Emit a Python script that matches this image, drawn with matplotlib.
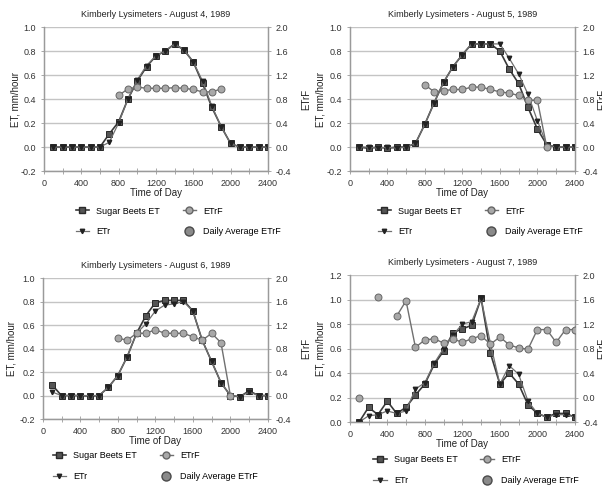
import matplotlib
matplotlib.use("Agg")
import matplotlib.pyplot as plt
import numpy as np
from matplotlib.lines import Line2D
from matplotlib.ticker import MultipleLocator

plt.rcParams['font.family'] = ['Liberation Sans', 'DejaVu Sans']

# time of day, hourly
hours = [100, 200, 300, 400, 500, 600, 700, 800, 900, 1000, 1100, 1200,
         1300, 1400, 1500, 1600, 1700, 1800, 1900, 2000, 2100, 2200, 2300, 2400]

titles = [
    "Kimberly Lysimeters - August 4, 1989",
    "Kimberly Lysimeters - August 5, 1989",
    "Kimberly Lysimeters - August 6, 1989",
    "Kimberly Lysimeters - August 7, 1989",
]

# August 4
beets_aug4 = [0, 0, 0, 0, 0, 0, 0.11, 0.21, 0.40, 0.55, 0.67, 0.76,
              0.80, 0.86, 0.81, 0.71, 0.53, 0.33, 0.17, 0.03, 0, 0, 0, 0]
etr_aug4 = [0, 0, 0, 0, 0, 0, 0.04, 0.20, 0.40, 0.56, 0.68, 0.76,
            0.80, 0.86, 0.81, 0.71, 0.55, 0.34, 0.17, 0.03, 0, 0, 0, 0]
etrf_aug4 = [None, None, None, None, None, None, None, 0.86, 0.97, 1.0, 0.98, 0.98,
             0.98, 0.99, 0.98, 0.96, 0.92, 0.92, 0.97, None, None, None, None, None]

# August 5
beets_aug5 = [0, -0.01, 0, -0.01, 0, 0, 0.03, 0.19, 0.37, 0.54, 0.67, 0.77,
              0.86, 0.86, 0.86, 0.80, 0.65, 0.53, 0.33, 0.15, 0.02, 0, 0, 0]
etr_aug5 = [0, 0, -0.01, 0, -0.01, 0, 0.03, 0.19, 0.37, 0.54, 0.67, 0.77,
            0.86, 0.86, 0.86, 0.86, 0.74, 0.61, 0.44, 0.22, 0.02, 0, 0, 0]
etrf_aug5 = [None, None, None, None, None, None, None, 1.04, 0.92, 0.94, 0.96, 0.96,
             1.0, 1.0, 0.96, 0.92, 0.90, 0.86, 0.78, 0.78, 0.0, None, None, None]

# August 6
beets_aug6 = [0.09, 0, 0, 0, -0.005, 0, 0.07, 0.17, 0.33, 0.53, 0.68, 0.79,
              0.81, 0.81, 0.81, 0.72, 0.47, 0.29, 0.11, 0.0, -0.01, 0.04, 0, 0]
etr_aug6 = [0.03, 0, 0, 0, 0, 0, 0.07, 0.17, 0.33, 0.53, 0.61, 0.72,
            0.77, 0.78, 0.80, 0.72, 0.47, 0.29, 0.11, 0.0, -0.01, 0.03, 0, 0]
etrf_aug6 = [None, None, None, None, None, None, None, 0.98, 0.94, 1.06, 1.06, 1.12,
             1.06, 1.06, 1.06, 1.0, 0.94, 1.06, 0.90, 0.0, None, None, None, None]

# August 7
beets_aug7 = [0.0, 0.12, 0.06, 0.17, 0.07, 0.12, 0.22, 0.31, 0.47, 0.58, 0.73, 0.76,
              0.79, 1.01, 0.56, 0.31, 0.40, 0.31, 0.14, 0.07, 0.04, 0.07, 0.07, 0.04]
etr_aug7 = [0.0, 0.05, 0.06, 0.09, 0.07, 0.09, 0.27, 0.32, 0.48, 0.60, 0.71, 0.80,
            0.82, 1.01, 0.64, 0.31, 0.46, 0.39, 0.17, 0.07, 0.04, 0.06, 0.06, 0.04]
etrf_aug7 = [0.0, None, 1.64, None, 1.33, 1.58, 0.82, 0.94, 0.96, 0.89, 0.96, 0.90,
             0.96, 1.01, 0.87, 0.99, 0.86, 0.81, 0.79, 1.11, 1.11, 0.90, 1.11, 1.11]

panels = [
    (beets_aug4, etr_aug4, etrf_aug4),
    (beets_aug5, etr_aug5, etrf_aug5),
    (beets_aug6, etr_aug6, etrf_aug6),
    (beets_aug7, etr_aug7, etrf_aug7),
]

left_limits = [(-0.2, 1.0), (-0.2, 1.0), (-0.2, 1.0), (0.0, 1.2)]
right_limits = (-0.4, 2.0)

# axes rectangles in figure fractions (left, bottom, width, height)
rects = [
    (0.073, 0.653, 0.372, 0.292),
    (0.581, 0.653, 0.374, 0.292),
    (0.071, 0.150, 0.374, 0.286),
    (0.581, 0.144, 0.374, 0.298),
]
# label positions in axes coords
left_label_x = [-0.105, -0.108, -0.115, -0.108]
right_label_x = [1.148, 1.098, 1.148, 1.098]
legend_anchor = [(0.6, -0.19), (0.58, -0.19), (0.5, -0.17), (0.56, -0.17)]

DARK = '#3a3a3a'
MID = '#707070'
LIGHT = '#a8a8a8'
GRID = '#c4c4c4'

fig = plt.figure(figsize=(6.02, 4.93), dpi=100)

for i, (beets, etr, etrf) in enumerate(panels):
    ax = fig.add_axes(rects[i])
    ax2 = ax.twinx()
    x = np.array(hours, dtype=float)

    ax.plot(x, np.array(beets, dtype=float), '-', color=DARK, lw=1.2,
            marker='s', ms=5, mfc='#555555', mec='#2a2a2a', mew=0.7, zorder=3)
    ax.plot(x, np.array(etr, dtype=float), '-', color=MID, lw=0.9,
            marker='v', ms=3.2, mfc='#222222', mec='#222222', zorder=4)
    ax2.plot(x, np.array(etrf, dtype=float), '-', color=MID, lw=1.0,
             marker='o', ms=5, mfc=LIGHT, mec='#666666', mew=0.7, zorder=3)

    lo, hi = left_limits[i]
    ax.set_ylim(lo, hi)
    ax.yaxis.set_major_locator(MultipleLocator(0.2))
    ax2.set_ylim(*right_limits)
    ax2.yaxis.set_major_locator(MultipleLocator(0.4))
    ax.set_xlim(0, 2400)
    ax.xaxis.set_major_locator(MultipleLocator(400))
    ax.xaxis.set_minor_locator(MultipleLocator(200))

    ax.grid(axis='y', color=GRID, lw=1.0)
    ax.set_axisbelow(True)
    for a in (ax, ax2):
        for sp in a.spines.values():
            sp.set_color('#9a9a9a')
            sp.set_linewidth(0.9)
        a.tick_params(labelsize=6.5, colors='#333333', length=3, width=0.6)
    ax.spines['top'].set_visible(False)
    ax2.spines['top'].set_visible(False)
    ax.tick_params(axis='x', which='both', direction='inout', length=4, color='#9a9a9a')
    ax.tick_params(axis='y', direction='out', length=2, color='#9a9a9a')
    ax2.tick_params(axis='y', direction='out', length=2, color='#9a9a9a')
    ax.yaxis.set_major_formatter(plt.FuncFormatter(lambda v, p: f"{v:.1f}"))
    ax2.yaxis.set_major_formatter(plt.FuncFormatter(lambda v, p: f"{v:.1f}"))

    ax.set_title(titles[i], fontsize=6.5, color='#222222', pad=7)
    ax.set_xlabel("Time of Day", fontsize=7, color='#222222', labelpad=0)
    ax.set_ylabel("ET, mm/hour", fontsize=7, color='#222222')
    ax.yaxis.set_label_coords(left_label_x[i], 0.5)
    ax2.set_ylabel("ETrF", fontsize=7, color='#222222')
    ax2.yaxis.set_label_coords(right_label_x[i], 0.5)

    handles = [
        Line2D([], [], color=DARK, lw=1.2, marker='s', ms=5, mfc='#555555', mec='#2a2a2a'),
        Line2D([], [], color=MID, lw=0.9, marker='v', ms=3.2, mfc='#222222', mec='#222222'),
        Line2D([], [], color=MID, lw=1.0, marker='o', ms=5, mfc=LIGHT, mec='#666666'),
        Line2D([], [], color=MID, lw=0, marker='o', ms=6.5, mfc='#8a8a8a', mec='#4a4a4a'),
    ]
    labels = ["Sugar Beets ET", "ETr", "ETrF", "Daily Average ETrF"]
    ax.legend(handles, labels, loc='upper center', bbox_to_anchor=legend_anchor[i],
              ncol=2, frameon=False, fontsize=6.5, columnspacing=2.5,
              handlelength=1.5, labelspacing=1.3)

fig.savefig("out.png", dpi=100)
